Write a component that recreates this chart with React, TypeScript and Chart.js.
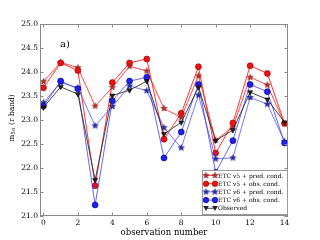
import React, { useEffect, useRef } from "react";
import { Chart, registerables } from "chart.js";

Chart.register(...registerables);

const observations = [0, 1, 2, 3, 4, 5, 6, 7, 8, 9, 10, 11, 12, 13, 14];
const v5Pred = [23.8, 24.2, 24.09, 23.29, 23.68, 24.12, 24.02, 23.24, 23.05, 23.92, 22.58, 22.85, 23.89, 23.73, 22.92];
const v5Obs = [23.67, 24.19, 24.03, 21.63, 23.78, 24.19, 24.27, 22.6, 23.14, 24.11, 22.31, 22.94, 24.13, 23.97, 22.93];
const v6Pred = [23.36, 23.78, 23.67, 22.88, 23.28, 23.71, 23.61, 22.84, 22.42, 23.52, 22.19, 22.21, 23.47, 23.33, 22.55];
const v6Obs = [23.29, 23.81, 23.65, 21.23, 23.4, 23.81, 23.89, 22.21, 22.75, 23.74, 21.91, 22.57, 23.74, 23.59, 22.52];
const observed = [23.26, 23.69, 23.54, 21.75, 23.51, 23.62, 23.81, 22.71, 22.95, 23.68, 22.57, 22.79, 23.58, 23.43, 22.95];
const xTicks = [0, 2, 4, 6, 8, 10, 12, 14];
const yTicks = [21, 21.5, 22, 22.5, 23, 23.5, 24, 24.5, 25];
const legendLabels = [
  "ETC v5 + pred. cond.",
  "ETC v5 + obs. cond.",
  "ETC v6 + pred. cond.",
  "ETC v6 + obs. cond.",
  "Observed",
];

const SERIF = "'DejaVu Serif', serif";

function makeStar(fill: string, stroke: string, r: number): HTMLCanvasElement {
  const s = Math.ceil(r * 2 + 2);
  const c = document.createElement("canvas");
  c.width = s;
  c.height = s;
  const ctx = c.getContext("2d")!;
  const cx = s / 2, cy = s / 2;
  ctx.beginPath();
  for (let i = 0; i < 10; i++) {
    const rr = i % 2 === 0 ? r : r * 0.42;
    const a = -Math.PI / 2 + (i * Math.PI) / 5;
    const px = cx + rr * Math.cos(a);
    const py = cy + rr * Math.sin(a);
    if (i === 0) ctx.moveTo(px, py);
    else ctx.lineTo(px, py);
  }
  ctx.closePath();
  ctx.fillStyle = fill;
  ctx.fill();
  ctx.strokeStyle = stroke;
  ctx.lineWidth = 0.6;
  ctx.stroke();
  return c;
}

export default function App() {
  const ref = useRef<HTMLCanvasElement>(null);
  useEffect(() => {
    document.body.style.margin = "0";
    const redStar = makeStar("#b8312f", "#7a1010", 3.2);
    const blueStar = makeStar("#2a2ab8", "#101070", 3.2);
    const toPts = (arr: number[]) => observations.map((x, i) => ({ x, y: arr[i] }));

    const series = [
      { label: legendLabels[0], data: v5Pred, line: "rgba(255,40,40,0.85)", kind: "star", img: redStar, fill: "#b8312f", edge: "#7a1010", order: 5 },
      { label: legendLabels[1], data: v5Obs, line: "rgba(255,30,30,0.9)", kind: "circle", fill: "#f01010", edge: "#8a0000", order: 4 },
      { label: legendLabels[2], data: v6Pred, line: "rgba(60,60,255,0.7)", kind: "star", img: blueStar, fill: "#2a2ab8", edge: "#101070", order: 3 },
      { label: legendLabels[3], data: v6Obs, line: "rgba(50,50,255,0.75)", kind: "circle", fill: "#1f1fee", edge: "#00008a", order: 2 },
      { label: legendLabels[4], data: observed, line: "rgba(40,40,40,0.85)", kind: "tri", fill: "#222222", edge: "#000000", order: 1 },
    ];

    const datasets = series.map((s) => ({
      label: s.label,
      data: toPts(s.data),
      borderColor: s.line,
      borderWidth: 1,
      backgroundColor: s.fill,
      pointBackgroundColor: s.fill,
      pointBorderColor: s.edge,
      pointBorderWidth: 0.6,
      pointStyle: s.kind === "star" ? (s as any).img : s.kind === "tri" ? "triangle" : "circle",
      pointRotation: s.kind === "tri" ? 180 : 0,
      pointRadius: s.kind === "circle" ? 3.0 : 2.9,
      tension: 0,
      fill: false,
      order: s.order,
    }));

    const decor = {
      id: "decor",
      afterDraw(chart: any) {
        const ctx = chart.ctx as CanvasRenderingContext2D;
        const { left, right, top, bottom } = chart.chartArea;
        const xs = chart.scales.x;
        const ys = chart.scales.y;
        ctx.save();
        ctx.strokeStyle = "#8a8a8a";
        ctx.lineWidth = 1;
        ctx.strokeRect(left + 0.5, top + 0.5, right - left - 1, bottom - top - 1);
        ctx.beginPath();
        xTicks.forEach((v) => {
          const px = Math.round(xs.getPixelForValue(v)) + 0.5;
          ctx.moveTo(px, bottom);
          ctx.lineTo(px, bottom - 3.5);
          ctx.moveTo(px, top);
          ctx.lineTo(px, top + 3.5);
        });
        yTicks.forEach((v) => {
          const py = Math.round(ys.getPixelForValue(v)) + 0.5;
          ctx.moveTo(left, py);
          ctx.lineTo(left + 3.5, py);
          ctx.moveTo(right, py);
          ctx.lineTo(right - 3.5, py);
        });
        ctx.stroke();

        ctx.fillStyle = "#000";
        ctx.font = `10px ${SERIF}`;
        ctx.textAlign = "left";
        ctx.textBaseline = "middle";
        ctx.fillText("a)", 60, 44);

        ctx.font = `8.5px ${SERIF}`;
        ctx.textAlign = "center";
        ctx.fillText("observation number", (left + right) / 2, 233);

        ctx.translate(12, 118);
        ctx.rotate(-Math.PI / 2);
        const p1 = "m";
        const sub = "5σ";
        const p2 = " (r band)";
        ctx.font = `7.5px ${SERIF}`;
        const w1 = ctx.measureText(p1).width;
        const w3 = ctx.measureText(p2).width;
        ctx.font = `5.5px ${SERIF}`;
        const w2 = ctx.measureText(sub).width;
        const total = w1 + w2 + w3;
        let xx = -total / 2;
        ctx.textAlign = "left";
        ctx.font = `7.5px ${SERIF}`;
        ctx.fillText(p1, xx, 0);
        xx += w1;
        ctx.font = `5.5px ${SERIF}`;
        ctx.fillText(sub, xx, 2);
        xx += w2;
        ctx.font = `7.5px ${SERIF}`;
        ctx.fillText(p2, xx, 0);
        ctx.restore();

        ctx.save();
        const bx = 202, by = 170, bw = 85, bh = 44;
        ctx.fillStyle = "#ffffff";
        ctx.fillRect(bx, by, bw, bh);
        ctx.strokeStyle = "#9a9a9a";
        ctx.lineWidth = 1;
        ctx.strokeRect(bx + 0.5, by + 0.5, bw, bh);
        series.forEach((s, i) => {
          const cy = by + 5.5 + i * 8.2;
          const x1 = 206, x2 = 215;
          ctx.strokeStyle = s.line;
          ctx.lineWidth = 1;
          ctx.beginPath();
          ctx.moveTo(x1, cy);
          ctx.lineTo(x2, cy);
          ctx.stroke();
          [x1, x2].forEach((mx) => {
            if (s.kind === "star") {
              const img = (s as any).img as HTMLCanvasElement;
              ctx.drawImage(img, mx - img.width / 2, cy - img.height / 2);
            } else if (s.kind === "circle") {
              ctx.beginPath();
              ctx.arc(mx, cy, 2.8, 0, Math.PI * 2);
              ctx.fillStyle = s.fill;
              ctx.fill();
              ctx.strokeStyle = s.edge;
              ctx.lineWidth = 0.6;
              ctx.stroke();
            } else {
              ctx.beginPath();
              ctx.moveTo(mx - 2.8, cy - 2.3);
              ctx.lineTo(mx + 2.8, cy - 2.3);
              ctx.lineTo(mx, cy + 2.8);
              ctx.closePath();
              ctx.fillStyle = s.fill;
              ctx.fill();
            }
          });
          ctx.fillStyle = "#000";
          ctx.font = `6px ${SERIF}`;
          ctx.textAlign = "left";
          ctx.textBaseline = "middle";
          ctx.fillText(s.label, 218, cy + 0.5);
        });
        ctx.restore();
      },
    };

    const chart = new Chart(ref.current!, {
      type: "line",
      data: { datasets: datasets as any },
      options: {
        animation: false,
        responsive: false,
        devicePixelRatio: 1,
        layout: { padding: { left: 0, top: 24, right: 32, bottom: 0 } },
        plugins: { legend: { display: false }, tooltip: { enabled: false } },
        scales: {
          x: {
            type: "linear",
            min: -0.2,
            max: 14.2,
            grid: { display: false, drawTicks: false },
            border: { display: false },
            afterFit: (s: any) => { s.height = 24; },
            afterBuildTicks: (s: any) => { s.ticks = xTicks.map((v) => ({ value: v })); },
            ticks: {
              color: "#000",
              font: { family: SERIF, size: 7.5 },
              padding: 3,
              maxRotation: 0,
              autoSkip: false,
              callback: (v: any) => String(v),
            },
          },
          y: {
            type: "linear",
            min: 21,
            max: 25,
            grid: { display: false, drawTicks: false },
            border: { display: false },
            afterFit: (s: any) => { s.width = 40; },
            afterBuildTicks: (s: any) => { s.ticks = yTicks.map((v) => ({ value: v })); },
            ticks: {
              color: "#000",
              font: { family: SERIF, size: 7.5 },
              padding: 2,
              autoSkip: false,
              callback: (v: any) => Number(v).toFixed(1),
            },
          },
        },
      },
      plugins: [decor],
    });
    return () => chart.destroy();
  }, []);
  return <canvas ref={ref} width={320} height={240} style={{ display: "block" }} />;
}
